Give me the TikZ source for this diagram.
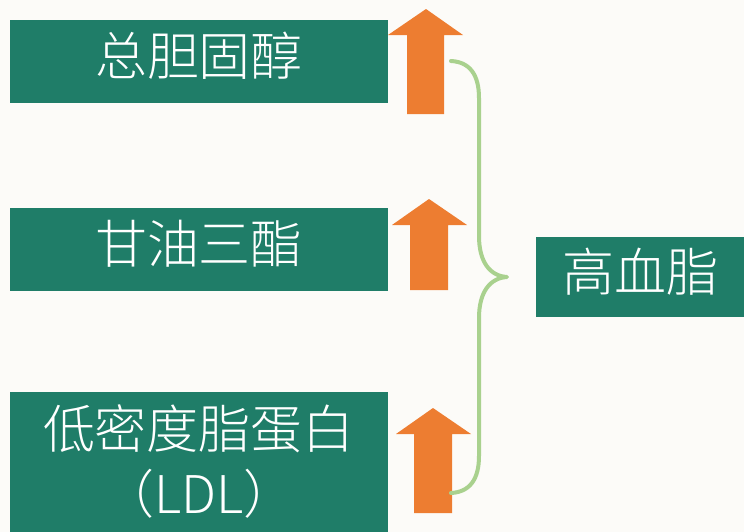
\documentclass[tikz,border=0pt]{standalone}
\usepackage{fontspec}
\newfontfamily\cjk{Noto Sans CJK SC Light}
\definecolor{bg}{HTML}{FCFBF8}
\definecolor{boxgreen}{HTML}{1F7D68}
\definecolor{arroworange}{HTML}{ED7D31}
\definecolor{bracegreen}{HTML}{A9D18E}
\tikzset{
  greenbox/.style={fill=boxgreen, draw=none, text=white, inner sep=0pt, align=center,
    font=\cjk\fontsize{39}{48.75}\selectfont},
  lift/.style={text height=33pt, text depth=12pt},
  uparrow/.style={fill=arroworange, draw=none},
  bracestyle/.style={draw=bracegreen, line width=3pt, line cap=round, line join=round}
}
\begin{document}
\begin{tikzpicture}[x=0.75pt,y=-0.75pt]
\fill[bg] (0,0) rectangle (744,532);
\useasboundingbox (0,0) rectangle (744,532);
% boxes
\node[greenbox, lift, minimum width=283.5pt, minimum height=62.25pt] (tc) at (199,61.5) {总胆固醇};
\node[greenbox, lift, minimum width=283.5pt, minimum height=62.25pt] (tg) at (199,249.5) {甘油三酯};
\node[greenbox, minimum width=283.5pt, minimum height=105pt] (ldl) at (199,462) {低密度脂蛋白\\（LDL）};
\node[greenbox, lift, minimum width=156pt, minimum height=60pt] (hl) at (640,277) {高血脂};
% arrows
\fill[uparrow] (426,9) -- (463,35) -- (444,35) -- (444,114) -- (407,114) -- (407,35) -- (388,35) -- cycle;
\fill[uparrow] (429,199) -- (467,225) -- (448,225) -- (448,290) -- (410,290) -- (410,225) -- (392,225) -- cycle;
\fill[uparrow] (433,408) -- (471,434) -- (452,434) -- (452,513) -- (414,513) -- (414,434) -- (396,434) -- cycle;
% brace
\coordinate (btop) at (451,61);
\coordinate (btip) at (507,277);
\coordinate (bbot) at (451,493);
\draw[bracestyle] (btop) .. controls (470,62) and (479,75) .. (479,98)
  -- (479,236) .. controls (479,262) and (490,276) .. (btip)
  .. controls (490,278) and (479,292) .. (479,318)
  -- (479,456) .. controls (479,479) and (470,492) .. (bbot);
\end{tikzpicture}
\end{document}
